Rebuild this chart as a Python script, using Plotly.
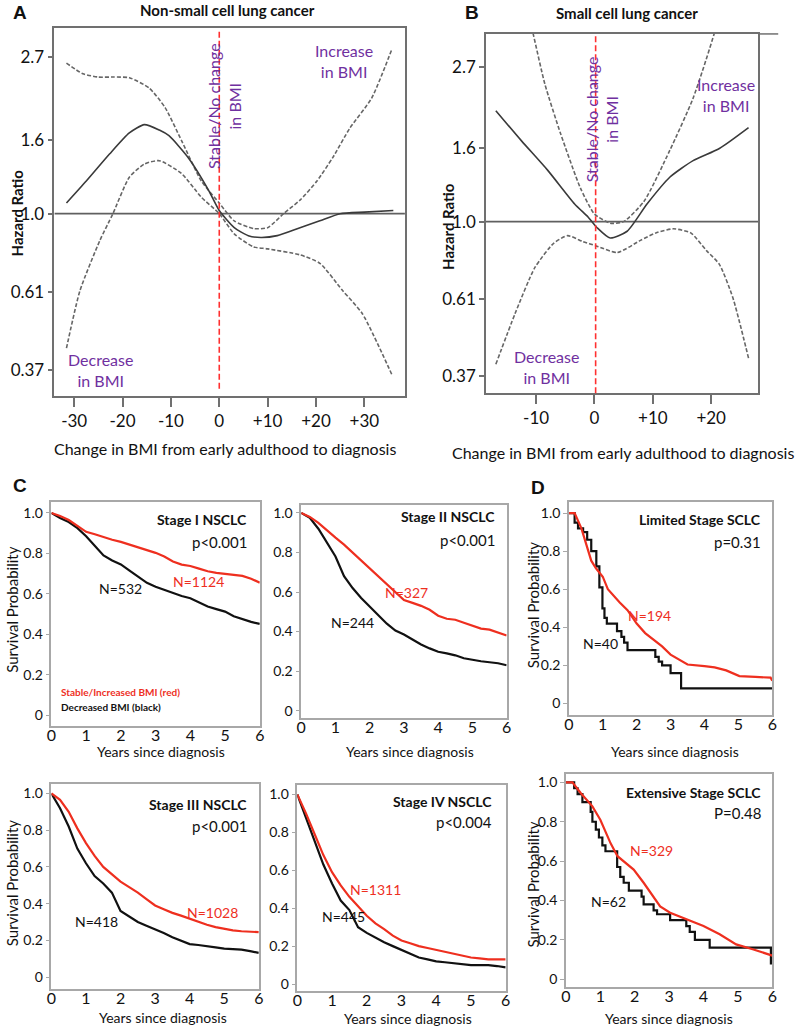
import math
import plotly.graph_objects as go

W, H = 800, 1029

# ---------------- Panel A : Non-small cell lung cancer (hazard ratio vs BMI change) ----------------
a_fit_x = [-31.6, -27.5, -22.7, -18.6, -15.5, -12.4, -10.4, -6.3, -2.2, 0, 3.1, 6, 8.6, 12, 16.7, 20.8, 25, 30, 36]
a_fit_hr = [1.07, 1.23, 1.46, 1.67, 1.76, 1.70, 1.64, 1.42, 1.16, 1.02, 0.915, 0.87, 0.86, 0.87, 0.915, 0.956, 1.0, 1.01, 1.02]
a_up_x = [-31.6, -28.2, -25, -21.8, -18.6, -14.5, -11.2, -7.8, -3.7, 0, 3.1, 7.1, 10, 13.3, 16.7, 20.2, 23.5, 27, 31.5, 35.7]
a_up_hr = [2.60, 2.43, 2.38, 2.38, 2.37, 2.22, 1.96, 1.59, 1.23, 1.07, 0.955, 0.91, 0.915, 1.0, 1.09, 1.23, 1.43, 1.72, 2.08, 2.84]
a_lo_x = [-31.6, -28.8, -24.7, -22, -18.6, -15.5, -12.4, -7.8, -3.7, 0, 3.1, 7.1, 10, 16.7, 20.8, 25.5, 29.6, 35.7]
a_lo_hr = [0.426, 0.614, 0.843, 1.0, 1.26, 1.37, 1.40, 1.29, 1.11, 1.0, 0.88, 0.81, 0.80, 0.77, 0.73, 0.614, 0.53, 0.36]

# ---------------- Panel B : Small cell lung cancer ----------------
b_fit_x = [-16.9, -12.5, -8, -3.4, -1.1, 0.5, 2.7, 5.6, 9, 12.9, 16.9, 21.4, 26.4]
b_fit_hr = [2.04, 1.68, 1.39, 1.12, 1.03, 0.96, 0.90, 0.94, 1.12, 1.33, 1.48, 1.60, 1.83]
b_up_x = [-11.5, -10.5, -8.5, -5.8, -2.4, 0, 2.7, 5, 8.5, 12.9, 16.9, 20.5, 21.5]
b_up_hr = [3.9, 3.34, 2.42, 1.76, 1.24, 1.05, 0.99, 1.0, 1.14, 1.58, 2.21, 3.34, 3.9]
b_lo_x = [-16.9, -13.6, -10.2, -7, -4.6, -2, 0.2, 3.9, 7.8, 10.5, 13.5, 16.5, 19.2, 21.4, 23.7, 26.4]
b_lo_hr = [0.40, 0.554, 0.745, 0.87, 0.914, 0.88, 0.857, 0.82, 0.885, 0.93, 0.955, 0.93, 0.83, 0.76, 0.614, 0.416]

hr_ticks = [0.37, 0.61, 1.0, 1.6, 2.7]
hr_tick_text = ["0.37", "0.61", "1.0", "1.6", "2.7"]
a_x_ticks = [-30, -20, -10, 0, 10, 20, 30]
a_x_text = ["-30", "-20", "-10", "0", "+10", "+20", "+30"]
b_x_ticks = [-10, 0, 10, 20]
b_x_text = ["-10", "0", "+10", "+20"]

# ---------------- Panel C / D : Kaplan-Meier survival ----------------
years = [0, 0.25, 0.5, 0.75, 1.0, 1.25, 1.5, 1.75, 2.0, 2.25, 2.5, 2.75, 3.0, 3.25, 3.5, 3.75, 4.0, 4.25, 4.5, 4.75, 5.0, 5.25, 5.5, 5.75, 6.0]

s1_red = [1.0, 0.985, 0.965, 0.935, 0.907, 0.895, 0.88, 0.868, 0.857, 0.843, 0.83, 0.815, 0.803, 0.785, 0.76, 0.745, 0.738, 0.725, 0.712, 0.704, 0.698, 0.694, 0.689, 0.675, 0.656]
s1_blk = [1.0, 0.975, 0.955, 0.925, 0.885, 0.84, 0.79, 0.765, 0.746, 0.715, 0.685, 0.655, 0.636, 0.62, 0.603, 0.59, 0.579, 0.56, 0.538, 0.525, 0.513, 0.49, 0.475, 0.462, 0.452]

s2_red = [1.0, 0.98, 0.95, 0.91, 0.875, 0.84, 0.80, 0.76, 0.72, 0.68, 0.64, 0.60, 0.56, 0.545, 0.53, 0.51, 0.48, 0.465, 0.46, 0.445, 0.43, 0.415, 0.41, 0.395, 0.38]
s2_blk = [1.0, 0.975, 0.92, 0.85, 0.78, 0.68, 0.62, 0.57, 0.525, 0.48, 0.44, 0.405, 0.385, 0.36, 0.335, 0.315, 0.298, 0.29, 0.28, 0.265, 0.256, 0.25, 0.245, 0.24, 0.23]

s3_red = [1.0, 0.965, 0.90, 0.81, 0.73, 0.66, 0.60, 0.56, 0.52, 0.49, 0.46, 0.425, 0.39, 0.37, 0.35, 0.335, 0.317, 0.30, 0.285, 0.272, 0.263, 0.255, 0.25, 0.248, 0.245]
s3_blk = [1.0, 0.92, 0.82, 0.70, 0.62, 0.55, 0.51, 0.46, 0.36, 0.33, 0.30, 0.28, 0.262, 0.24, 0.217, 0.2, 0.18, 0.175, 0.17, 0.162, 0.155, 0.152, 0.15, 0.142, 0.132]

s4_red = [1.0, 0.90, 0.79, 0.68, 0.59, 0.52, 0.46, 0.41, 0.36, 0.32, 0.29, 0.255, 0.23, 0.215, 0.20, 0.19, 0.18, 0.17, 0.16, 0.15, 0.14, 0.135, 0.13, 0.13, 0.13]
s4_blk = [1.0, 0.88, 0.76, 0.63, 0.53, 0.44, 0.39, 0.30, 0.27, 0.245, 0.22, 0.20, 0.18, 0.16, 0.14, 0.13, 0.12, 0.115, 0.11, 0.105, 0.10, 0.10, 0.10, 0.095, 0.088]

# Limited stage SCLC
d1_red_t = [0, 0.17, 0.37, 0.5, 0.66, 0.8, 1.0, 1.15, 1.34, 1.5, 1.73, 2.0, 2.25, 2.5, 2.75, 3.0, 3.25, 3.5, 4.0, 4.3, 4.64, 5.03, 5.5, 5.95, 6.0]
d1_red_s = [1.0, 1.0, 0.92, 0.84, 0.75, 0.71, 0.666, 0.60, 0.56, 0.53, 0.49, 0.42, 0.37, 0.336, 0.30, 0.257, 0.23, 0.205, 0.197, 0.19, 0.174, 0.144, 0.14, 0.136, 0.12]
d1_blk_t = [0, 0.17, 0.27, 0.42, 0.54, 0.66, 0.81, 0.9, 0.99, 1.05, 1.12, 1.42, 1.55, 1.63, 1.73, 2.55, 2.65, 2.75, 3.0, 3.31, 6.0]
d1_blk_s = [1.0, 0.95, 0.92, 0.90, 0.86, 0.80, 0.72, 0.61, 0.50, 0.45, 0.42, 0.38, 0.35, 0.32, 0.28, 0.245, 0.22, 0.20, 0.16, 0.08, 0.08]

# Extensive stage SCLC
d2_red_t = [0, 0.19, 0.43, 0.77, 1.0, 1.3, 1.5, 1.97, 2.26, 2.74, 3.03, 3.5, 4.0, 4.47, 4.95, 5.43, 6.0]
d2_red_s = [1.0, 1.0, 0.946, 0.878, 0.81, 0.69, 0.625, 0.557, 0.49, 0.37, 0.338, 0.304, 0.27, 0.228, 0.177, 0.152, 0.12]
d2_blk_t = [0, 0.24, 0.34, 0.48, 0.58, 0.72, 0.77, 0.87, 0.96, 1.06, 1.15, 1.25, 1.49, 1.58, 1.68, 1.83, 2.07, 2.2, 2.26, 2.55, 2.65, 2.74, 3.03, 3.13, 3.5, 3.6, 3.75, 4.18, 5.96, 6.0]
d2_blk_s = [1.0, 0.97, 0.94, 0.90, 0.90, 0.85, 0.80, 0.76, 0.72, 0.68, 0.65, 0.65, 0.57, 0.52, 0.49, 0.45, 0.45, 0.42, 0.38, 0.35, 0.33, 0.33, 0.30, 0.30, 0.27, 0.24, 0.20, 0.16, 0.08, 0.08]

surv_ticks = [0, 0.2, 0.4, 0.6, 0.8, 1.0]
surv_text = ["0", "0.2", "0.4", "0.6", "0.8", "1.0"]
year_ticks = [0, 1, 2, 3, 4, 5, 6]

RED = "#ee2f1f"
BLACK = "#111111"
PURPLE = "#7030a0"
FONT = "Lato"

fig = go.Figure()


def dx(l, r):
    return [l / W, r / W]


def dy(t, b):
    return [1 - b / H, 1 - t / H]


def px(x):
    return x / W


def py(y):
    return 1 - y / H


# ---------- axes layout ----------
lay = {}


def hr_axes(n, xl, xr, yt, yb, xrange, yrange, xt, xtt):
    sfx = "" if n == 1 else str(n)
    lay["xaxis" + sfx] = dict(domain=dx(xl, xr), range=xrange, anchor="y" + sfx,
                              showline=True, mirror=True, linecolor="#707070", linewidth=1.5,
                              ticks="outside", ticklen=9, tickwidth=1.5, tickcolor="#707070",
                              tickvals=xt, ticktext=xtt, showgrid=False, zeroline=False,
                              tickfont=dict(family=FONT, size=17, color="#111"))
    lay["yaxis" + sfx] = dict(domain=dy(yt, yb), type="log",
                              range=[math.log10(yrange[0]), math.log10(yrange[1])], anchor="x" + sfx,
                              showline=True, mirror=True, linecolor="#707070", linewidth=1.5,
                              ticks="outside", ticklen=5, tickwidth=1.5, tickcolor="#707070",
                              tickvals=hr_ticks, ticktext=hr_tick_text, showgrid=False, zeroline=False,
                              tickfont=dict(family=FONT, size=17, color="#111"))


def km_axes(n, xl, xr, yt, yb, yrange):
    sfx = str(n)
    lay["xaxis" + sfx] = dict(domain=dx(xl, xr), range=[0, 6], anchor="y" + sfx,
                              showline=True, mirror=True, linecolor="#a8a8a8", linewidth=1.5,
                              ticks="", tickvals=year_ticks, showgrid=False, zeroline=False,
                              ticklabelstandoff=-6,
                              tickfont=dict(family=FONT, size=16, color="#111"))
    lay["yaxis" + sfx] = dict(domain=dy(yt, yb), range=yrange, anchor="x" + sfx,
                              showline=True, mirror=True, linecolor="#a8a8a8", linewidth=1.5,
                              ticks="outside", ticklen=4, tickcolor="#a8a8a8",
                              tickvals=surv_ticks, ticktext=surv_text, showgrid=False, zeroline=False,
                              tickfont=dict(family=FONT, size=14, color="#111"))


hr_axes(1, 50, 405, 27, 396, [-34.1, 38.4], [0.314, 3.25], a_x_ticks, a_x_text)
hr_axes(2, 487, 763, 33, 393, [-18.6, 28.1], [0.332, 3.34], b_x_ticks, b_x_text)
km_axes(3, 47, 258, 502, 726, [-0.05, 1.054])
km_axes(4, 300, 508, 505, 718, [-0.035, 1.04])
km_axes(5, 47, 257, 785, 990, [-0.065, 1.049])
km_axes(6, 296, 507, 786, 992, [-0.037, 1.047])
km_axes(7, 571, 777, 502, 715, [-0.058, 1.058])
km_axes(8, 568, 777, 775, 988, [-0.04, 1.04])

# ---------- hazard ratio traces ----------
for sfx, xr, fx, fy, ux, uy, lx, ly in [
    ("", [-34.1, 38.4], a_fit_x, a_fit_hr, a_up_x, a_up_hr, a_lo_x, a_lo_hr),
    ("2", [-18.6, 28.1], b_fit_x, b_fit_hr, b_up_x, b_up_hr, b_lo_x, b_lo_hr),
]:
    xa, ya = "x" + sfx, "y" + sfx
    fig.add_trace(go.Scatter(x=xr, y=[1.0, 1.0], mode="lines", xaxis=xa, yaxis=ya,
                             line=dict(color="#606060", width=1.8), showlegend=False, hoverinfo="skip"))
    fig.add_trace(go.Scatter(x=ux, y=uy, mode="lines", xaxis=xa, yaxis=ya,
                             line=dict(color="#666666", width=1.6, dash="4px,2px", shape="spline", smoothing=0.6),
                             showlegend=False))
    fig.add_trace(go.Scatter(x=lx, y=ly, mode="lines", xaxis=xa, yaxis=ya,
                             line=dict(color="#666666", width=1.6, dash="4px,2px", shape="spline", smoothing=0.6),
                             showlegend=False))
    fig.add_trace(go.Scatter(x=fx, y=fy, mode="lines", xaxis=xa, yaxis=ya,
                             line=dict(color="#3a3a3a", width=1.6, shape="spline", smoothing=0.6),
                             showlegend=False))

# red dashed vertical reference lines at no change
shapes = [
    dict(type="line", xref="x", yref="y domain", x0=0, x1=0, y0=0.02, y1=0.99,
         line=dict(color="#ff3030", width=1.6, dash="6px,3px")),
    dict(type="line", xref="x2", yref="y2 domain", x0=0.2, x1=0.2, y0=0, y1=1,
         line=dict(color="#ff3030", width=1.6, dash="6px,3px")),
    dict(type="line", xref="paper", yref="paper", x0=px(763), x1=px(783), y0=py(33), y1=py(33),
         line=dict(color="#707070", width=1.5)),
]

# ---------- KM traces ----------
km = [
    ("3", years, s1_red, years, s1_blk, "linear"),
    ("4", years, s2_red, years, s2_blk, "linear"),
    ("5", years, s3_red, years, s3_blk, "linear"),
    ("6", years, s4_red, years, s4_blk, "linear"),
    ("7", d1_red_t, d1_red_s, d1_blk_t, d1_blk_s, "hv"),
    ("8", d2_red_t, d2_red_s, d2_blk_t, d2_blk_s, "hv"),
]
for sfx, rt, rs, bt, bs, shape in km:
    fig.add_trace(go.Scatter(x=bt, y=bs, mode="lines", xaxis="x" + sfx, yaxis="y" + sfx,
                             line=dict(color=BLACK, width=2.2, shape=shape), showlegend=False))
    fig.add_trace(go.Scatter(x=rt, y=rs, mode="lines", xaxis="x" + sfx, yaxis="y" + sfx,
                             line=dict(color=RED, width=2.2, shape="linear"), showlegend=False))

# ---------- annotations ----------
ann = []


def T(x, y, text, size=14, color="#111", bold=False, xanchor="center", angle=0, family=FONT):
    t = "<b>%s</b>" % text if bold else text
    ann.append(dict(x=px(x), y=py(y), xref="paper", yref="paper", text=t, showarrow=False,
                    xanchor=xanchor, yanchor="middle", textangle=angle,
                    font=dict(family=family, size=size, color=color)))


# panel letters
T(15, 12, "A", 19, bold=True, family="Liberation Sans")
T(473, 12, "B", 19, bold=True, family="Liberation Sans")
T(15, 485, "C", 19, bold=True, family="Liberation Sans")
T(540, 487, "D", 19, bold=True, family="Liberation Sans")

# panel A
T(225, 9, "Non-small cell lung cancer", 15, bold=True)
T(343, 60, "Increase<br>in BMI", 16, PURPLE)
T(222, 105, "Stable/No change<br>in BMI", 16, PURPLE, angle=-90)
T(97, 370, "Decrease<br>in BMI", 16, PURPLE)
T(12, 212, "Hazard Ratio", 15, bold=True, angle=-90)
T(223, 448, "Change in BMI from early adulthood to diagnosis", 16)

# panel B
T(630, 12, "Small cell lung cancer", 15, bold=True)
T(730, 94, "Increase<br>in BMI", 16, PURPLE)
T(604, 118, "Stable/No change<br>in BMI", 16, PURPLE, angle=-90)
T(548, 367, "Decrease<br>in BMI", 16, PURPLE)
T(448, 226, "Hazard Ratio", 15, bold=True, angle=-90)
T(626, 452, "Change in BMI from early adulthood to diagnosis", 16)

# panel C
T(247, 520, "Stage I NSCLC", 14, bold=True, xanchor="right")
T(247, 542, "p<0.001", 15, xanchor="right")
T(117, 589, "N=532", 14)
T(196, 582, "N=1124", 14, RED)
T(55, 692, "Stable/Increased BMI (red)", 10, RED, bold=True, xanchor="left")
T(55, 707, "Decreased BMI (black)", 10, bold=True, xanchor="left")
T(7, 610, "Survival Probability", 15, angle=-90)
T(158, 752, "Years since diagnosis", 14)

T(498, 517, "Stage II NSCLC", 14, bold=True, xanchor="right")
T(498, 540, "p<0.001", 15, xanchor="right")
T(407, 593, "N=327", 14, RED)
T(352, 623, "N=244", 14)
T(410, 752, "Years since diagnosis", 14)

T(247, 805, "Stage III NSCLC", 14, bold=True, xanchor="right")
T(247, 827, "p<0.001", 15, xanchor="right")
T(210, 913, "N=1028", 14, RED)
T(93, 922, "N=418", 14)
T(7, 884, "Survival Probability", 15, angle=-90)
T(160, 1018, "Years since diagnosis", 14)

T(495, 802, "Stage IV NSCLC", 14, bold=True, xanchor="right")
T(495, 823, "p<0.004", 15, xanchor="right")
T(375, 890, "N=1311", 14, RED)
T(343, 917, "N=445", 14)
T(408, 1019, "Years since diagnosis", 14)

# panel D
T(768, 520, "Limited Stage SCLC", 14, bold=True, xanchor="right")
T(768, 542, "p=0.31", 15, xanchor="right")
T(653, 616, "N=194", 14, RED)
T(603, 644, "N=40", 14)
T(535, 605, "Survival Probability", 15, angle=-90)
T(678, 752, "Years since diagnosis", 14)

T(768, 793, "Extensive Stage SCLC", 14, bold=True, xanchor="right")
T(768, 814, "P=0.48", 15, xanchor="right")
T(655, 851, "N=329", 14, RED)
T(611, 902, "N=62", 14)
T(535, 885, "Survival Probability", 15, angle=-90)
T(672, 1019, "Years since diagnosis", 14)

fig.update_layout(width=W, height=H, autosize=False, margin=dict(l=0, r=0, t=0, b=0),
                  paper_bgcolor="white", plot_bgcolor="white", showlegend=False,
                  font=dict(family=FONT), annotations=ann, shapes=shapes, **lay)

fig.write_html("out.html", config={"displayModeBar": False},
               post_script="document.body.style.margin='0';document.body.style.padding='0';")
